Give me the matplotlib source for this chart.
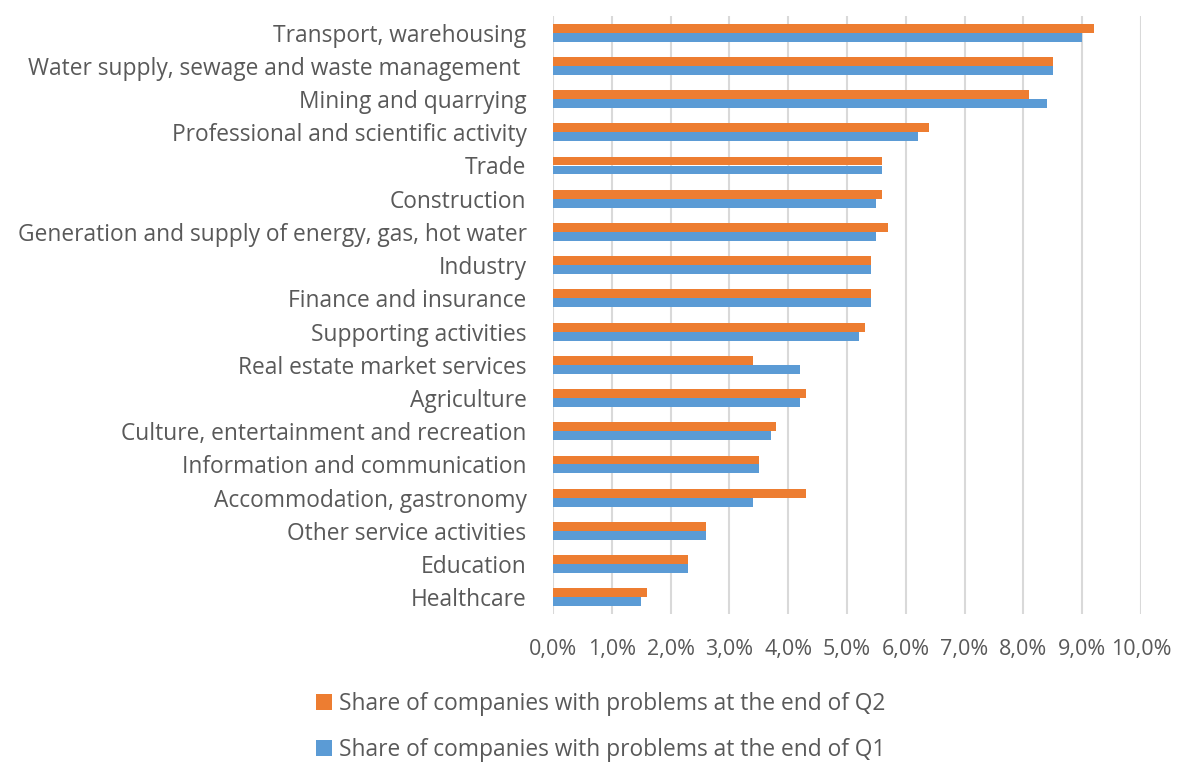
import matplotlib
matplotlib.use("Agg")
import matplotlib.pyplot as plt
import numpy as np
from matplotlib.ticker import FuncFormatter

categories = [
    "Transport, warehousing",
    "Water supply, sewage and waste management ",
    "Mining and quarrying",
    "Professional and scientific activity",
    "Trade",
    "Construction",
    "Generation and supply of energy, gas, hot water",
    "Industry",
    "Finance and insurance",
    "Supporting activities",
    "Real estate market services",
    "Agriculture",
    "Culture, entertainment and recreation",
    "Information and communication",
    "Accommodation, gastronomy",
    "Other service activities",
    "Education",
    "Healthcare",
]
q2 = [9.2, 8.5, 8.1, 6.4, 5.6, 5.6, 5.7, 5.4, 5.4, 5.3, 3.4, 4.3, 3.8, 3.5, 4.3, 2.6, 2.3, 1.6]
q1 = [9.0, 8.5, 8.4, 6.2, 5.6, 5.5, 5.5, 5.4, 5.4, 5.2, 4.2, 4.2, 3.7, 3.5, 3.4, 2.6, 2.3, 1.5]
series_names = ["Share of companies with problems at the end of Q2",
                "Share of companies with problems at the end of Q1"]
xticks = np.arange(0, 11, 1)

plt.rcParams['font.family'] = ['Open Sans', 'DejaVu Sans']
text_color = '#595959'
orange = '#ED7D31'
blue = '#5B9BD5'

fig = plt.figure(figsize=(11.78, 7.63), dpi=100)
ax = fig.add_axes([553/1178, 1 - 614/763, (1141-553)/1178, (614-16)/763])

y = np.arange(len(categories))
h = 0.27
ax.barh(y - h/2, q2, height=h, color=orange, label=series_names[0], zorder=3)
ax.barh(y + h/2, q1, height=h, color=blue, label=series_names[1], zorder=3)

ax.set_ylim(len(categories) - 0.5, -0.5)
ax.set_xlim(0, 10)
ax.set_yticks(y)
ax.set_yticklabels(categories, fontsize=16.4, color=text_color)
ax.set_xticks(xticks)
ax.xaxis.set_major_formatter(FuncFormatter(lambda v, p: f"{v:.1f}%".replace('.', ',')))
ax.tick_params(axis='x', labelsize=15.5, labelcolor=text_color, length=0, pad=18)
ax.tick_params(axis='y', length=0, pad=19)
ax.grid(axis='x', color='#D9D9D9', linewidth=1.5, zorder=0)
for s in ax.spines.values():
    s.set_visible(False)

handles, labels = ax.get_legend_handles_labels()
leg = fig.legend(handles, labels, loc='center', bbox_to_anchor=(601/1178, 1 - 727/763),
                 ncol=1, frameon=False, fontsize=16.4, handlelength=0.7, handleheight=0.7,
                 handletextpad=0.3, labelspacing=1.0, labelcolor=text_color)

fig.savefig("out.png", dpi=100)
